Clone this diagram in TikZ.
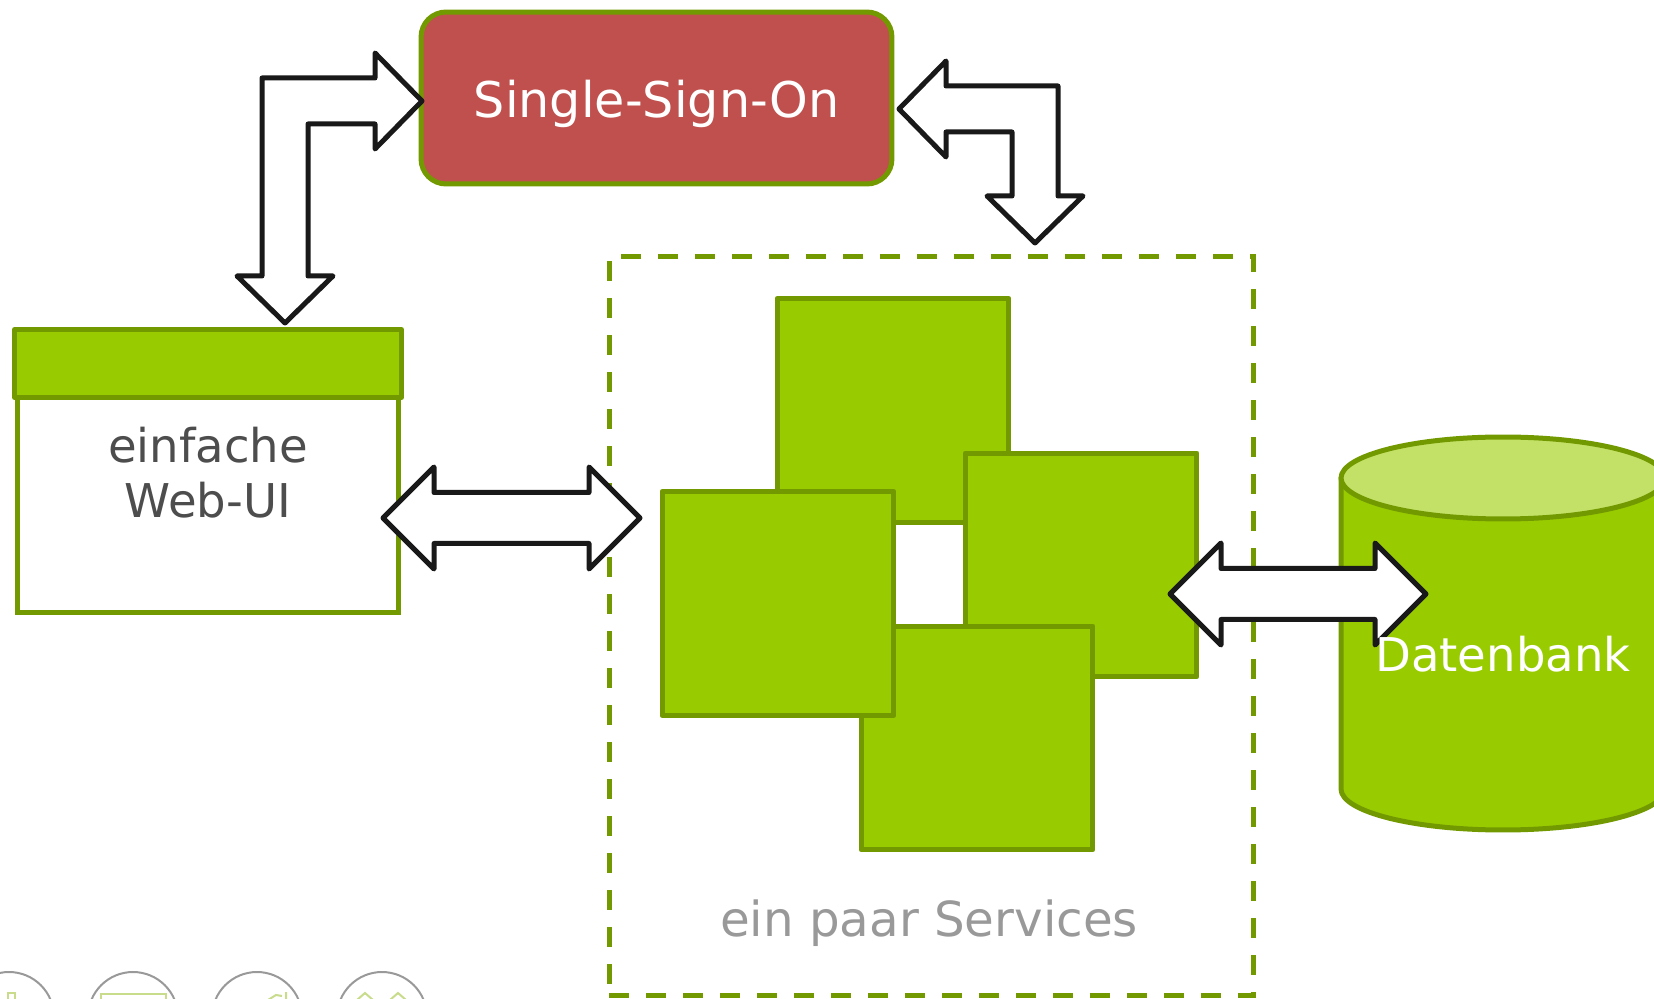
\documentclass[tikz,border=0pt]{standalone}
\usepackage{fontspec}
\setmainfont{DejaVu Sans}
\usetikzlibrary{calc, positioning}

\definecolor{leafgreen}{HTML}{99CC00}
\definecolor{olivegreen}{HTML}{729A00}
\definecolor{ssored}{HTML}{C0504D}
\definecolor{dbtop}{HTML}{C3E166}
\definecolor{webgray}{HTML}{4D4D4D}
\definecolor{paleicon}{HTML}{C8DC8C}

\tikzset{
  greenbox/.style={draw=olivegreen, fill=leafgreen, line width=0.1cm, line join=round},
  blockarrow/.style={draw=black!90, fill=white, line width=0.1cm, line join=round},
  servicebox/.style={greenbox, minimum width=4.64cm, minimum height=4.48cm, inner sep=0pt},
}

% bent block arrow: #1 side tip, #2 lower tip, #3/#4 direction signs
\newcommand{\bentarrow}[4]{%
  \draw[blockarrow] (#2) -- ++({48*#3},{-47*#4}) -- ++({-25*#3},0)
    -- ($(#2 |- #1)+({23*#3},{23*#4})$)
    -- ($(#1)+({-47*#3},{23*#4})$) -- ++(0,{25*#4}) -- (#1)
    -- ++({-47*#3},{-48*#4}) -- ++(0,{25*#4})
    -- ($(#2 |- #1)+({-23*#3},{-23*#4})$)
    -- ($(#2)+({-23*#3},{-47*#4})$) -- ++({-25*#3},0) -- cycle;}

% straight double block arrow from left tip #1 to right tip #2
\newcommand{\dblarrow}[2]{%
  \draw[blockarrow] (#1) -- ++(51,-51) -- ++(0,25.5) -- ($(#2)+(-51,-25.5)$)
    -- ++(0,-25.5) -- (#2) -- ++(-51,51) -- ++(0,-25.5)
    -- ($(#1)+(51,25.5)$) -- ++(0,25.5) -- cycle;}

\begin{document}
\begin{tikzpicture}[x=0.02cm, y=-0.02cm, font=\fontsize{26.5}{31.5}\selectfont]
  \useasboundingbox (0,0) rectangle (1654,999);

  % services
  \node[draw=olivegreen, line width=0.1cm, dash pattern=on 0.4cm off 0.34cm,
    minimum width=12.9cm, minimum height=14.8cm] (services) at (931.5,626) {};
  \node[servicebox] (svctop) at (893,410.5) {};
  \node[servicebox] (svcright) at (1081,565) {};
  \node[servicebox] (svcbottom) at (977,738) {};
  \node[servicebox] (svcleft) at (778,603.5) {};
  \node[text=gray!80, anchor=base, font=\fontsize{27.5}{33}\selectfont] (svclabel) at (929,936) {ein paar Services};

  % single sign-on
  \node[draw=olivegreen, fill=ssored, line width=0.1cm, rounded corners=0.5cm,
    minimum width=9.42cm, minimum height=3.44cm, text=white, text height=0.8cm, text depth=0pt,
    font=\fontsize{28}{33}\selectfont] (sso) at (656.5,98) {Single-Sign-On};

  % web ui
  \node[draw=olivegreen, fill=white, line width=0.1cm, minimum width=7.64cm,
    minimum height=5.62cm, text=webgray, align=center, inner sep=0pt] (webui) at (208,472.5) {einfache\\Web-UI};
  \draw[greenbox] (webui.north west) rectangle ($(webui.north east)+(0,68)$);

  % database
  \draw[greenbox] (1341,478) -- (1341,789)
    arc[start angle=180, end angle=360, x radius=3.24cm, y radius=0.82cm] -- (1665,478) -- cycle;
  \draw[greenbox, fill=dbtop] (1503,478) ellipse [x radius=3.24cm, y radius=0.82cm];

  % arrows
  \coordinate (ssoL) at (422,101);
  \coordinate (uiTop) at (285,323);
  \bentarrow{ssoL}{uiTop}{1}{1}
  \coordinate (ssoR) at (899,109);
  \coordinate (svcTop) at (1035,243);
  \bentarrow{ssoR}{svcTop}{-1}{1}
  \coordinate (uiTip) at (383,518);
  \coordinate (svcTip) at (640,518);
  \dblarrow{uiTip}{svcTip}
  \coordinate (svcTip2) at (1170,594);
  \coordinate (dbTip) at (1426,594);
  \dblarrow{svcTip2}{dbTip}

  \node[text=white, anchor=base] (db) at (1503,672) {Datenbank};

  % navigation circles
  \foreach \cx in {9,133,257,382}
    \draw[draw=gray!80, line width=0.04cm, fill=white] (\cx,1017) circle [radius=0.9cm];
  \draw[paleicon, line width=0.04cm] (8,1005) rectangle (15,993);
  \draw[paleicon, line width=0.04cm] (101,1012) rectangle (166,994);
  \draw[paleicon, line width=0.04cm] (268,1000) -- (276,995) -- (282,996) (286,1000) -- (286,992);
  \draw[paleicon, line width=0.04cm] (357,1000) -- (365,993) -- (373,1000) (390,1000) -- (398,993) -- (406,1000);
\end{tikzpicture}
\end{document}
